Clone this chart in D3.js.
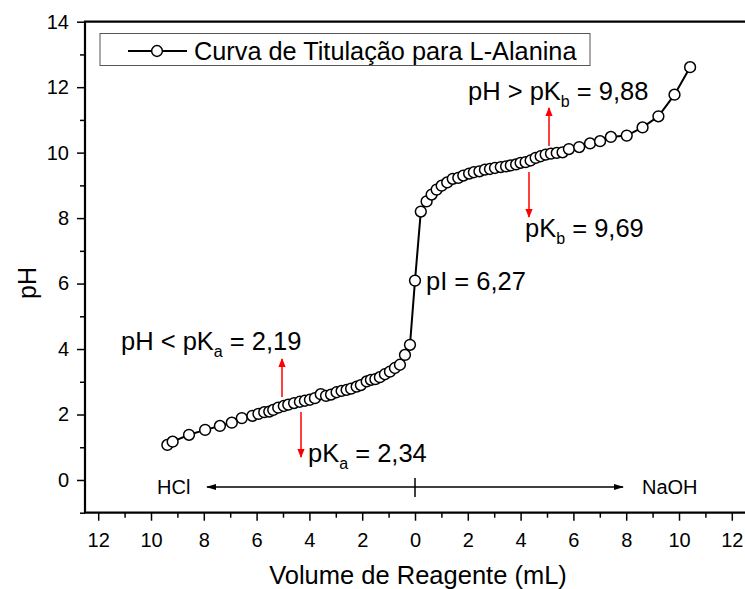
<!DOCTYPE html>
<html>

<head>
  <meta charset="utf-8">
  <script src="https://d3js.org/d3.v7.min.js"></script>
  <style>
    body { margin: 0; background: #fff; }
    text { font-family: "Liberation Sans", Arial, sans-serif; }
  </style>
</head>

<body>
  <div id="my_dataviz"></div>
  <script>
    // volume in mL, negative values = HCl added, positive = NaOH added
    var volume = [-9.38, -9.18, -8.56, -7.95, -7.39, -6.94, -6.56, -6.16, -5.93, -5.71,
      -5.52, -5.37, -5.18, -4.97, -4.80, -4.58, -4.36, -4.17, -3.98, -3.79,
      -3.57, -3.37, -3.18, -2.97, -2.78, -2.59, -2.42, -2.21, -2.05, -1.83,
      -1.67, -1.50, -1.33, -1.14, -0.95, -0.76, -0.57, -0.38, -0.19,
      0.00,
      0.22, 0.44, 0.63, 0.82, 1.01, 1.22, 1.43, 1.64, 1.83, 2.05,
      2.23, 2.44, 2.65, 2.84, 3.03, 3.25, 3.45, 3.63, 3.83, 4.00,
      4.19, 4.38, 4.57, 4.76, 4.95, 5.15, 5.37, 5.59, 5.83, 6.22,
      6.63, 7.01, 7.42, 8.02, 8.62, 9.22, 9.83, 10.42];
    var ph = [1.07, 1.17, 1.38, 1.53, 1.65, 1.75, 1.89, 1.96, 2.02, 2.07,
      2.09, 2.14, 2.21, 2.26, 2.30, 2.35, 2.39, 2.42, 2.45, 2.50,
      2.62, 2.57, 2.61, 2.68, 2.72, 2.75, 2.79, 2.85, 2.90, 3.01,
      3.06, 3.08, 3.14, 3.23, 3.31, 3.42, 3.52, 3.82, 4.13,
      6.09,
      8.20, 8.51, 8.72, 8.87, 8.99, 9.09, 9.20, 9.23, 9.30, 9.36,
      9.40, 9.43, 9.48, 9.50, 9.53, 9.56, 9.58, 9.61, 9.64, 9.69,
      9.71, 9.76, 9.84, 9.89, 9.94, 9.97, 9.99, 10.01, 10.11, 10.17,
      10.28, 10.35, 10.48, 10.52, 10.77, 11.11, 11.77, 12.61];

    var xTicks = [-12, -10, -8, -6, -4, -2, 0, 2, 4, 6, 8, 10, 12];
    var xMinor = d3.range(-11, 12, 2);
    var yTicks = [0, 2, 4, 6, 8, 10, 12, 14];
    var yMinor = [-1, 1, 3, 5, 7, 9, 11, 13];

    var data = volume.map(function (v, i) { return { v: v, ph: ph[i] }; });

    var W = 745, H = 589;
    var svg = d3.select("#my_dataviz")
      .append("svg")
      .attr("width", W)
      .attr("height", H);

    var x = d3.scaleLinear().domain([-12.5, 12.5]).range([85, 745]);
    var y = d3.scaleLinear().domain([-1, 14]).range([512.7, 21.7]);

    var defs = svg.append("defs");
    defs.append("marker")
      .attr("id", "redhead").attr("viewBox", "0 0 10 10")
      .attr("refX", 9).attr("refY", 5)
      .attr("markerWidth", 11).attr("markerHeight", 9)
      .attr("markerUnits", "userSpaceOnUse")
      .attr("orient", "auto")
      .append("path").attr("d", "M0,1 L10,5 L0,9 Z").attr("fill", "#ff0000");
    defs.append("marker")
      .attr("id", "blackhead").attr("viewBox", "0 0 10 10")
      .attr("refX", 9).attr("refY", 5)
      .attr("markerWidth", 16).attr("markerHeight", 10)
      .attr("markerUnits", "userSpaceOnUse")
      .attr("orient", "auto-start-reverse")
      .append("path").attr("d", "M0,2 L10,5 L0,8 Z").attr("fill", "#000");

    // axes
    svg.append("g")
      .attr("transform", "translate(0," + y(-1) + ")")
      .call(d3.axisBottom(x).tickValues(xTicks).tickSize(8).tickPadding(12)
        .tickFormat(function (d) { return Math.abs(d); }))
      .call(function (g) {
        g.select(".domain").remove();
        g.selectAll("line").attr("stroke-width", 1.5);
        g.selectAll("text").attr("font-size", 20).attr("fill", "#000");
      });
    svg.append("g")
      .attr("transform", "translate(0," + y(-1) + ")")
      .call(d3.axisBottom(x).tickValues(xMinor).tickSize(5).tickFormat(""))
      .call(function (g) {
        g.select(".domain").remove();
        g.selectAll("line").attr("stroke-width", 1.5);
      });

    svg.append("g")
      .attr("transform", "translate(" + x(-12.5) + ",0)")
      .call(d3.axisLeft(y).tickValues(yTicks).tickSize(8).tickPadding(8))
      .call(function (g) {
        g.select(".domain").remove();
        g.selectAll("line").attr("stroke-width", 1.5);
        g.selectAll("text").attr("font-size", 20).attr("fill", "#000");
      });
    svg.append("g")
      .attr("transform", "translate(" + x(-12.5) + ",0)")
      .call(d3.axisLeft(y).tickValues(yMinor).tickSize(5).tickFormat(""))
      .call(function (g) {
        g.select(".domain").remove();
        g.selectAll("line").attr("stroke-width", 1.5);
      });

    // frame
    svg.append("path")
      .attr("d", "M" + x(12.5) + "," + y(14) + "H" + x(-12.5) + "V" + y(-1) + "H" + x(12.5))
      .attr("fill", "none").attr("stroke", "#000").attr("stroke-width", 2.2);

    // titles
    svg.append("text")
      .attr("x", 418).attr("y", 584)
      .attr("text-anchor", "middle").attr("font-size", 25.5)
      .text("Volume de Reagente (mL)");
    svg.append("text")
      .attr("transform", "translate(36," + 283 + ")rotate(-90)")
      .attr("text-anchor", "middle").attr("font-size", 25)
      .text("pH");

    // curve
    svg.append("path")
      .datum(data)
      .attr("fill", "none").attr("stroke", "#000").attr("stroke-width", 2)
      .attr("d", d3.line().x(function (d) { return x(d.v); }).y(function (d) { return y(d.ph); }));
    svg.selectAll("mycircle")
      .data(data)
      .enter()
      .append("circle")
      .attr("cx", function (d) { return x(d.v); })
      .attr("cy", function (d) { return y(d.ph); })
      .attr("r", 5.4)
      .attr("fill", "#fff")
      .attr("stroke", "#000")
      .attr("stroke-width", 1.5);

    // legend
    svg.append("rect")
      .attr("x", 100).attr("y", 33.5).attr("width", 490).attr("height", 32)
      .attr("fill", "#fff").attr("stroke", "#555").attr("stroke-width", 1);
    svg.append("line")
      .attr("x1", 128).attr("x2", 187).attr("y1", 51).attr("y2", 51)
      .attr("stroke", "#000").attr("stroke-width", 2);
    svg.append("circle")
      .attr("cx", 157).attr("cy", 51).attr("r", 5.4)
      .attr("fill", "#fff").attr("stroke", "#000").attr("stroke-width", 1.5);
    svg.append("text")
      .attr("x", 194).attr("y", 60).attr("font-size", 25.3)
      .text("Curva de Titulação para L-Alanina");

    // annotations
    function subLabel(px, py, pre, sub, post) {
      var t = svg.append("text").attr("x", px).attr("y", py).attr("font-size", 25.5);
      t.append("tspan").text(pre);
      t.append("tspan").attr("font-size", 16).attr("dy", 7).text(sub);
      t.append("tspan").attr("dy", -7).text(post);
    }
    subLabel(468, 100, "pH > pK", "b", " = 9,88");
    subLabel(525, 237, "pK", "b", " = 9,69");
    subLabel(121, 350, "pH < pK", "a", " = 2,19");
    subLabel(308, 462, "pK", "a", " = 2,34");
    svg.append("text")
      .attr("x", 426).attr("y", 290).attr("font-size", 25.5)
      .text("pI = 6,27");

    function redArrow(x1, y1, x2, y2) {
      svg.append("line")
        .attr("x1", x1).attr("y1", y1).attr("x2", x2).attr("y2", y2)
        .attr("stroke", "#ff0000").attr("stroke-width", 1.5)
        .attr("marker-end", "url(#redhead)");
    }
    redArrow(549, 146, 549, 108);
    redArrow(529, 172, 529, 217);
    redArrow(282, 397, 282, 359);
    redArrow(301, 412, 301, 457);

    // reagent direction arrow
    svg.append("line")
      .attr("x1", 207).attr("x2", 623).attr("y1", 487).attr("y2", 487)
      .attr("stroke", "#000").attr("stroke-width", 1.5)
      .attr("marker-start", "url(#blackhead)")
      .attr("marker-end", "url(#blackhead)");
    svg.append("line")
      .attr("x1", x(0)).attr("x2", x(0)).attr("y1", 478).attr("y2", 497)
      .attr("stroke", "#000").attr("stroke-width", 1.5);
    svg.append("text")
      .attr("x", 157).attr("y", 494).attr("font-size", 20).text("HCl");
    svg.append("text")
      .attr("x", 642).attr("y", 494).attr("font-size", 20).text("NaOH");
  </script>
</body>

</html>
